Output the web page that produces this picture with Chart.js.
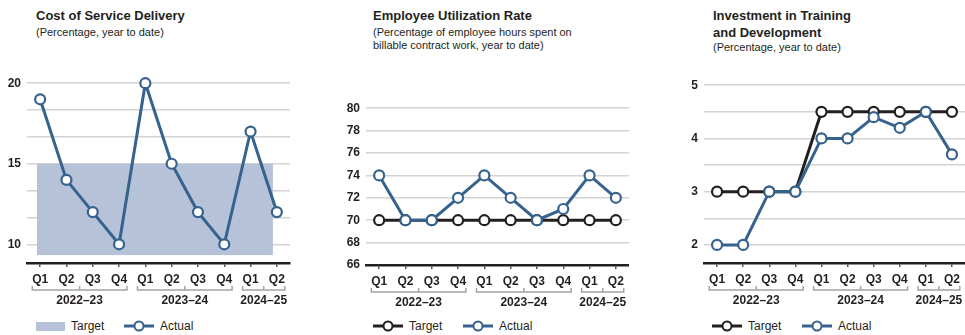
<!DOCTYPE html>
<html>
<head>
<meta charset="utf-8">
<script src="https://cdn.jsdelivr.net/npm/chart.js@4/dist/chart.umd.min.js"></script>
<style>
  body { margin: 0; width: 965px; height: 335px; background: #fff; position: relative; overflow: hidden;
         font-family: "Liberation Sans", Arial, sans-serif; color: #231f20; }
  .title { position: absolute; font-weight: bold; font-size: 13px; line-height: 17px; white-space: nowrap; }
  .sub { position: absolute; font-size: 11px; line-height: 13px; white-space: nowrap; }
  .cv { position: absolute; }
  .lg { position: absolute; top: 319px; height: 14px; font-size: 12px; display: flex; align-items: center; white-space: nowrap; }
  .lg svg { margin-right: 6px; }
</style>
</head>
<body>
<div class="title" style="left:36px;top:7px">Cost of Service Delivery</div>
<div class="sub" style="left:36px;top:26px">(Percentage, year to date)</div>
<div class="title" style="left:373px;top:7px">Employee Utilization Rate</div>
<div class="sub" style="left:373px;top:26px">(Percentage of employee hours spent on<br>billable contract work, year to date)</div>
<div class="title" style="left:713px;top:7px">Investment in Training<br>and Development</div>
<div class="sub" style="left:713px;top:41px">(Percentage, year to date)</div>

<div class="cv" style="left:0;top:70px;width:300px;height:245px"><canvas id="c1"></canvas></div>
<div class="cv" style="left:339px;top:95px;width:290px;height:220px"><canvas id="c2"></canvas></div>
<div class="cv" style="left:675px;top:72px;width:290px;height:243px"><canvas id="c3"></canvas></div>

<div class="lg" style="left:36px"><svg width="29" height="9"><rect width="29" height="9" fill="#b6c2d7"/></svg>Target</div>
<div class="lg" style="left:124px"><svg width="30" height="12"><line x1="0" y1="6" x2="30" y2="6" stroke="#36628e" stroke-width="3"/><circle cx="15" cy="6" r="4.5" fill="#fff" stroke="#36628e" stroke-width="2"/></svg>Actual</div>

<div class="lg" style="left:373px"><svg width="30" height="12"><line x1="0" y1="6" x2="30" y2="6" stroke="#231f20" stroke-width="3"/><circle cx="15" cy="6" r="4.5" fill="#fff" stroke="#231f20" stroke-width="2"/></svg>Target</div>
<div class="lg" style="left:463px"><svg width="30" height="12"><line x1="0" y1="6" x2="30" y2="6" stroke="#36628e" stroke-width="3"/><circle cx="15" cy="6" r="4.5" fill="#fff" stroke="#36628e" stroke-width="2"/></svg>Actual</div>

<div class="lg" style="left:712px"><svg width="30" height="12"><line x1="0" y1="6" x2="30" y2="6" stroke="#231f20" stroke-width="3"/><circle cx="15" cy="6" r="4.5" fill="#fff" stroke="#231f20" stroke-width="2"/></svg>Target</div>
<div class="lg" style="left:802px"><svg width="30" height="12"><line x1="0" y1="6" x2="30" y2="6" stroke="#36628e" stroke-width="3"/><circle cx="15" cy="6" r="4.5" fill="#fff" stroke="#36628e" stroke-width="2"/></svg>Actual</div>

<script>
// quarters and fiscal years shared by all three panels
const quarters = ["Q1", "Q2", "Q3", "Q4", "Q1", "Q2", "Q3", "Q4", "Q1", "Q2"];
const years = ["2022–23", "2023–24", "2024–25"];
const quartersPerYear = [4, 4, 2];

// Cost of Service Delivery
const costActual = [19, 14, 12, 10, 20, 15, 12, 10, 17, 12];
const costTargetBand = [9.33, 15];
const costYLabels = [10, 15, 20];

// Employee Utilization Rate
const utilActual = [74, 70, 70, 72, 74, 72, 70, 71, 74, 72];
const utilTarget = [70, 70, 70, 70, 70, 70, 70, 70, 70, 70];
const utilYLabels = [66, 68, 70, 72, 74, 76, 78, 80];

// Investment in Training and Development
const trainActual = [2, 2, 3, 3, 4, 4, 4.4, 4.2, 4.5, 3.7];
const trainTarget = [3, 3, 3, 3, 4.5, 4.5, 4.5, 4.5, 4.5, 4.5];
const trainYLabels = [2, 3, 4, 5];

const INK = "#231f20";
const BLUE = "#36628e";
const FONT = "'Liberation Sans', Arial, sans-serif";

Chart.defaults.font.family = FONT;
Chart.defaults.color = INK;
Chart.defaults.animation = false;

// year brackets under the quarter labels
const yearBrackets = {
  id: "yearBrackets",
  afterDraw(chart) {
    const { ctx, chartArea, scales: { x } } = chart;
    const step = x.getPixelForValue(1) - x.getPixelForValue(0);
    const y = chartArea.bottom + 27;
    let start = 0;
    ctx.save();
    years.forEach((label, i) => {
      const end = start + quartersPerYear[i] - 1;
      const x0 = x.getPixelForValue(start) - step * 0.3;
      const x1 = x.getPixelForValue(end) + step * 0.3;
      const mid = (x0 + x1) / 2;
      ctx.strokeStyle = "#a3a3a3";
      ctx.lineWidth = 1.5;
      ctx.beginPath();
      ctx.moveTo(x0, y - 4); ctx.lineTo(x0, y); ctx.lineTo(x1, y); ctx.lineTo(x1, y - 4);
      ctx.moveTo(mid, y); ctx.lineTo(mid, y - 4);
      ctx.stroke();
      ctx.fillStyle = INK;
      ctx.font = "bold 12px " + FONT;
      ctx.textAlign = "center";
      ctx.textBaseline = "middle";
      ctx.fillText(label, mid, y + 11);
      start = end + 1;
    });
    ctx.restore();
  }
};

// shaded target range for the cost panel
const targetBand = {
  id: "targetBand",
  beforeDatasetsDraw(chart) {
    if (!chart.options.plugins.targetBand) return;
    const { ctx, scales: { x, y } } = chart;
    const step = x.getPixelForValue(1) - x.getPixelForValue(0);
    const left = x.getPixelForValue(0) - step * 0.12;
    const right = x.getPixelForValue(quarters.length - 1) - step * 0.15;
    const top = y.getPixelForValue(costTargetBand[1]);
    const bottom = y.getPixelForValue(costTargetBand[0]);
    ctx.save();
    ctx.fillStyle = "#b6c2d7";
    ctx.fillRect(left, top, right - left, bottom - top);
    ctx.restore();
  }
};

function lineSet(data, color, order) {
  return {
    data, order,
    borderColor: color, borderWidth: 3,
    pointBackgroundColor: "#fff", pointBorderColor: color,
    pointBorderWidth: 2.2, pointRadius: 5, pointHoverRadius: 5,
    tension: 0, clip: false
  };
}

function makeChart(id, datasets, opt) {
  return new Chart(document.getElementById(id), {
    type: "line",
    data: { labels: quarters, datasets },
    plugins: [yearBrackets, targetBand],
    options: {
      responsive: true,
      maintainAspectRatio: false,
      layout: { autoPadding: false, padding: { top: 13, right: opt.padRight, left: 0, bottom: 0 } },
      plugins: { legend: { display: false }, tooltip: { enabled: false }, targetBand: !!opt.band },
      scales: {
        x: {
          offset: true,
          afterFit: (s) => { s.height = opt.xHeight; },
          grid: { display: true, drawOnChartArea: false, offset: false, tickLength: 4, color: "#555", lineWidth: 1.5 },
          border: { display: true, color: INK, width: 2.5 },
          ticks: { font: { weight: "bold", size: 12 }, padding: 5, color: INK, maxRotation: 0, autoSkip: false }
        },
        y: {
          min: opt.min, max: opt.max,
          afterFit: (s) => { s.width = opt.yWidth; },
          afterBuildTicks: (s) => { s.ticks = opt.grid.map((v) => ({ value: v })); },
          grid: { color: "#d3d3d3", lineWidth: 1.5, drawTicks: false },
          border: { display: false },
          ticks: {
            padding: 6, color: INK, font: { weight: "bold", size: 12 },
            callback: (v) => opt.labels.some((l) => Math.abs(l - v) < 1e-6) ? String(Math.round(v)) : ""
          }
        }
      }
    }
  });
}

// gridline positions: thirds between labelled ticks on the cost panel, halves on training
const costGrid = [];
for (let i = 0; i <= 6; i++) costGrid.push(costYLabels[0] + i * 5 / 3);
const trainGrid = [];
for (let v = trainYLabels[0]; v <= trainYLabels[trainYLabels.length - 1] + 1e-9; v += 0.5) trainGrid.push(v);

makeChart("c1", [lineSet(costActual, BLUE, 1)], {
  min: 8.84, max: 20, grid: costGrid, labels: costYLabels,
  yWidth: 27, xHeight: 52, padRight: 10, band: true
});

makeChart("c2", [lineSet(utilTarget, INK, 2), lineSet(utilActual, BLUE, 1)], {
  min: 66, max: 80, grid: utilYLabels, labels: utilYLabels,
  yWidth: 27, xHeight: 50, padRight: 0
});

makeChart("c3", [lineSet(trainTarget, INK, 2), lineSet(trainActual, BLUE, 1)], {
  min: 1.66, max: 5, grid: trainGrid, labels: trainYLabels,
  yWidth: 29, xHeight: 52, padRight: 0
});
</script>
</body>
</html>
